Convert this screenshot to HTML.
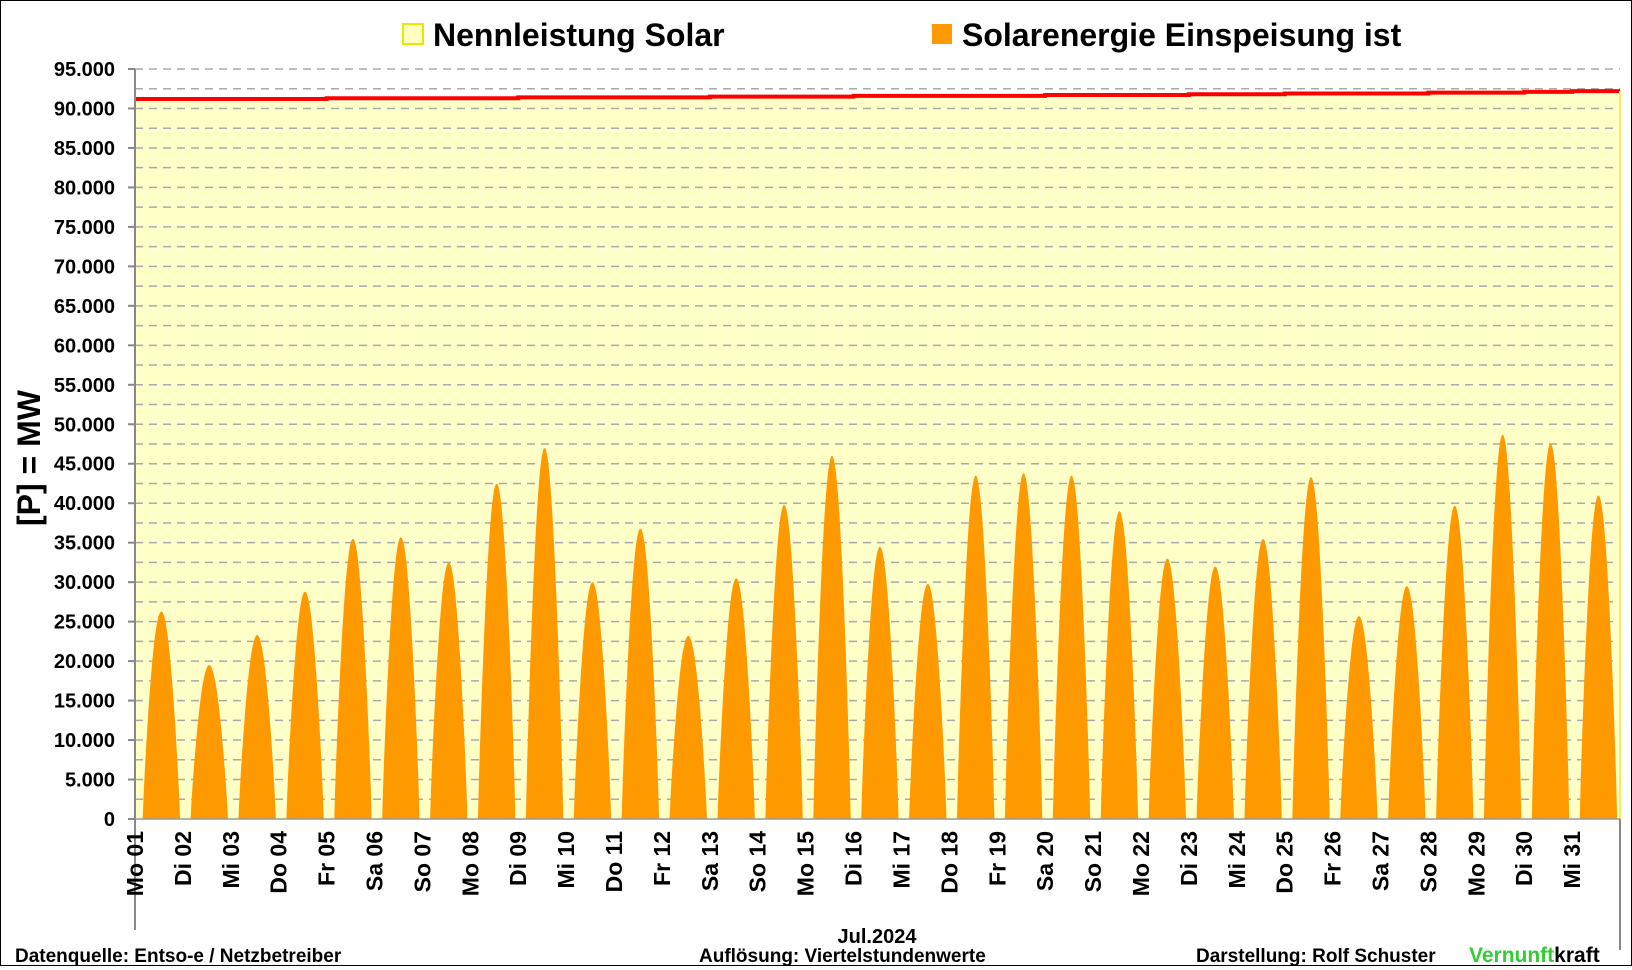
<!DOCTYPE html>
<html><head><meta charset="utf-8"><style>
html,body{margin:0;padding:0;background:#fff}
svg{display:block;font-family:"Liberation Sans",sans-serif}
</style></head><body>
<svg id="chart" width="1632" height="970" viewBox="0 0 1632 970" xmlns="http://www.w3.org/2000/svg">
<rect x="0.5" y="0.5" width="1631" height="965" fill="#fff" stroke="#000" stroke-width="1"/>
<g id="plot"></g>
<g>
 <g>
  <rect x="403" y="24" width="20" height="20" fill="#ffffc0" stroke="#e8e800" stroke-width="2"/>
  <text x="433" y="46" font-size="32" font-weight="bold">Nennleistung Solar</text>
 </g>
 <g>
  <rect x="932" y="24" width="20" height="20" fill="#ff9900"/>
  <text x="962" y="46" font-size="32" font-weight="bold">Solarenergie Einspeisung ist</text>
 </g>
</g>
<text transform="translate(40,458) rotate(-90)" text-anchor="middle" font-size="32" font-weight="bold">[P] = MW</text>
<text x="877" y="943" text-anchor="middle" font-size="20" font-weight="bold">Jul.2024</text>
<text x="15" y="962" font-size="19" font-weight="bold">Datenquelle:  Entso-e  / Netzbetreiber</text>
<text x="699" y="962" font-size="19" font-weight="bold">Auflösung: Viertelstundenwerte</text>
<text x="1196" y="962" font-size="19" font-weight="bold">Darstellung:  Rolf Schuster</text>
<text x="1469" y="962" font-size="21" font-weight="bold"><tspan fill="#33cc33">Vernunft</tspan><tspan fill="#000">kraft</tspan></text>
</svg>
<script>
const dayLabels=["Mo 01","Di 02","Mi 03","Do 04","Fr 05","Sa 06","So 07","Mo 08","Di 09","Mi 10","Do 11","Fr 12","Sa 13","So 14","Mo 15","Di 16","Mi 17","Do 18","Fr 19","Sa 20","So 21","Mo 22","Di 23","Mi 24","Do 25","Fr 26","Sa 27","So 28","Mo 29","Di 30","Mi 31"];
const peakValues=[26300,19500,23300,28800,35500,35700,32500,42500,47000,30000,36800,23200,30500,39800,46000,34500,29800,43500,43800,43500,39000,33000,32000,35500,43300,25700,29500,39700,48700,47600,41000];
const capacityValues=[91200,91200,91200,91200,91300,91300,91300,91300,91400,91400,91400,91400,91500,91500,91500,91600,91600,91600,91600,91700,91700,91700,91800,91800,91900,91900,91900,92000,92000,92100,92200];
const yTicks=[0,5000,10000,15000,20000,25000,30000,35000,40000,45000,50000,55000,60000,65000,70000,75000,80000,85000,90000,95000];
const tickLabels=["0","5.000","10.000","15.000","20.000","25.000","30.000","35.000","40.000","45.000","50.000","55.000","60.000","65.000","70.000","75.000","80.000","85.000","90.000","95.000"];

const X0=135,X1=1620,Y0=819,Y1=69,YMAX=95000;
const nDays=dayLabels.length;
const x=t=>X0+t*(X1-X0)/nDays;
const y=v=>Y0-v/YMAX*(Y0-Y1);
const NS="http://www.w3.org/2000/svg";
const plot=document.getElementById('plot');
function mk(tag,attrs){const e=document.createElementNS(NS,tag);for(const k in attrs)e.setAttribute(k,attrs[k]);return e;}

let cap=`M${x(0)},${Y0}`;
capacityValues.forEach((v,i)=>{cap+=` L${x(i)},${y(v)} L${x(i+1)},${y(v)}`;});
cap+=` L${x(nDays)},${Y0} Z`;
const capArea=mk('path',{d:cap,fill:'#ffffc8'});


plot.appendChild(capArea);

for(let v=2500;v<=YMAX;v+=2500){
 const g=mk('line',{x1:X0,x2:X1,y1:y(v),y2:y(v),stroke:'#aaaaaa','stroke-width':1.5,'stroke-dasharray':'8 6'});
 
 
 plot.appendChild(g);
}

peakValues.forEach((p,i)=>{
 const c=i+0.55,hw=0.39;
 let d=`M${x(c-hw)},${Y0}`;
 for(let k=0;k<=40;k++){const u=-1+k/20;const f=Math.pow(Math.cos(u*Math.PI/2),0.85);d+=` L${x(c+u*hw)},${y(p*f)}`;}
 d+=' Z';
 const b=mk('path',{d:d,fill:'#ff9900'});
 
 
 plot.appendChild(b);
});

let cl='';
capacityValues.forEach((v,i)=>{cl+=(i?' L':'M')+`${x(i)},${y(v)} L${x(i+1)},${y(v)}`;});
const capLine=mk('path',{d:cl,fill:'none',stroke:'#ff0000','stroke-width':4});


plot.appendChild(capLine);

const re=mk('line',{x1:X1,x2:X1,y1:y(capacityValues[nDays-1]),y2:Y0,stroke:'#f0f060','stroke-width':2});


plot.appendChild(re);

const ya=mk('line',{x1:X0,x2:X0,y1:Y1,y2:Y0,stroke:'#888','stroke-width':2});


plot.appendChild(ya);
const xa=mk('line',{x1:X0,x2:X1,y1:Y0,y2:Y0,stroke:'#999','stroke-width':1.5});


plot.appendChild(xa);
const xl=mk('line',{x1:X0,x2:X0,y1:Y0,y2:930,stroke:'#888','stroke-width':2});


plot.appendChild(xl);
const xr=mk('line',{x1:X1,x2:X1,y1:Y0,y2:950,stroke:'#888','stroke-width':2});


plot.appendChild(xr);

yTicks.forEach((v,i)=>{
 const tk=mk('line',{x1:X0-7,x2:X0,y1:y(v),y2:y(v),stroke:'#888','stroke-width':2});
 
 
 plot.appendChild(tk);
 const t=mk('text',{x:X0-20,y:y(v)+7,'text-anchor':'end','font-size':20,'font-weight':'bold'});
 t.textContent=tickLabels[i];
 
 
 plot.appendChild(t);
});

dayLabels.forEach((l,i)=>{
 const t=mk('text',{transform:`translate(${x(i)+8},${Y0+12}) rotate(-90)`,'text-anchor':'end','font-size':23,'font-weight':'bold'});
 t.textContent=l;
 
 
 plot.appendChild(t);
});
</script>
</body></html>
